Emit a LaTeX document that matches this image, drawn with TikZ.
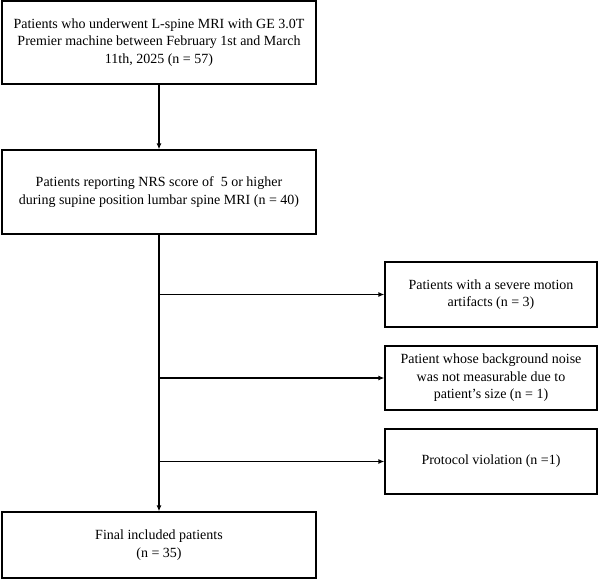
\documentclass[tikz,border=0pt]{standalone}
\usepackage{fontspec}
\setmainfont{Liberation Serif}
\usetikzlibrary{arrows.meta}
\begin{document}
\begin{tikzpicture}[x=1pt,y=-1pt,
  box/.style={draw=black, line width=1.2pt, inner sep=0pt, align=center,
    font=\fontsize{14}{17.5}\selectfont},
  arr/.style={draw=black, line width=1.2pt, -{Latex[length=6pt,width=5pt]}},
  ln/.style={draw=black, line width=1.2pt}]
\useasboundingbox (0,0) rectangle (600,579);
\node[box, minimum width=314pt, minimum height=83pt] (b1) at (159,42.5)
  {Patients who underwent L-spine MRI with GE 3.0T\\Premier machine between February 1st and March\\11th, 2025 (n = 57)};
\node[box, minimum width=314pt, minimum height=84pt] (b2) at (159,192)
  {Patients reporting NRS score of \ 5 or higher\\during supine position lumbar spine MRI (n = 40)};
\node[box, minimum width=212pt, minimum height=65pt] (b3) at (491,294.5)
  {Patients with a severe motion\\artifacts (n = 3)};
\node[box, minimum width=212pt, minimum height=64pt] (b4) at (491,378)
  {Patient whose background noise\\was not measurable due to\\patient's size (n = 1)};
\node[box, minimum width=212pt, minimum height=65pt] (b6) at (491,461.5)
  {Protocol violation (n =1)};
\node[box, minimum width=314pt, minimum height=66pt] (b5) at (159,545)
  {Final included patients\\(n = 35)};
\draw[arr] (b1) -- (b2);
\draw[arr] (b2) -- (b5);
\draw[arr] (b2.south |- b3.west) -- (b3.west);
\draw[arr] (b2.south |- b4.west) -- (b4.west);
\draw[arr] (b2.south |- b6.west) -- (b6.west);
\end{tikzpicture}
\end{document}
